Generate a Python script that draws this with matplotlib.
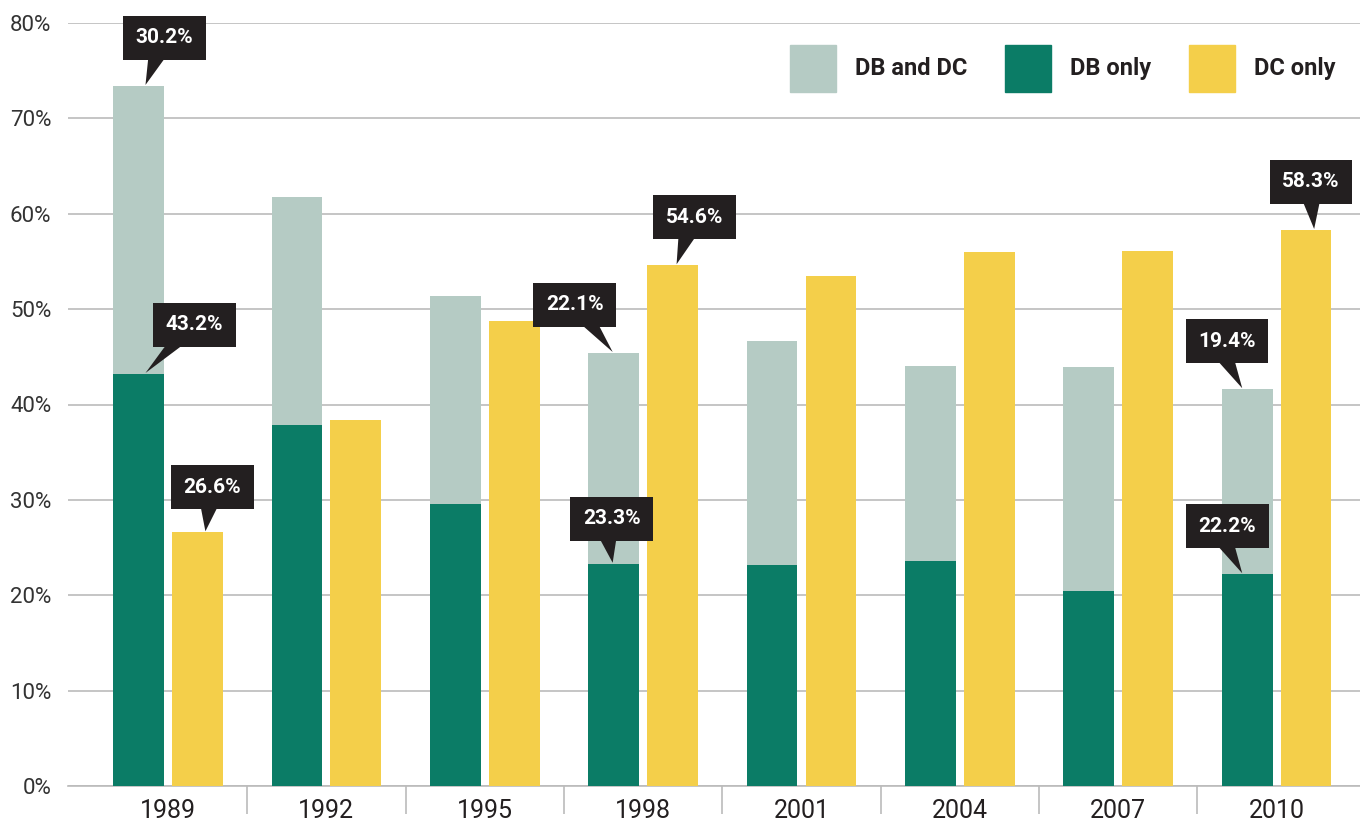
import numpy as np
import matplotlib.pyplot as plt
import matplotlib.transforms as mtransforms
from matplotlib.patches import Patch, Polygon

plt.rcParams['font.family'] = ['Roboto', 'DejaVu Sans']

years = ["1989", "1992", "1995", "1998", "2001", "2004", "2007", "2010"]
db_only = [43.2, 37.9, 29.6, 23.3, 23.2, 23.6, 20.4, 22.2]
db_and_dc = [30.2, 23.9, 21.8, 22.1, 23.5, 20.4, 23.5, 19.4]
dc_only = [26.6, 38.4, 48.8, 54.6, 53.5, 56.0, 56.1, 58.3]

c_both = "#b5cbc4"
c_db = "#0b7c66"
c_dc = "#f4cf4a"
c_box = "#231f20"

fig = plt.figure(figsize=(13.6, 8.25), dpi=100)
ax = fig.add_axes([68 / 1360, 1 - 786 / 825, 1 - 68 / 1360, (786 - 23) / 825])

x = np.arange(len(years))
w = 0.32
off = 0.186
ax.bar(x - off, db_only, w, color=c_db, zorder=3)
ax.bar(x - off, db_and_dc, w, bottom=db_only, color=c_both, zorder=3)
ax.bar(x + off, dc_only, w, color=c_dc, zorder=3)

ax.set_xlim(-0.631, 7.526)
ax.set_ylim(0, 80)
ax.set_yticks(range(0, 81, 10))
ax.set_yticklabels([f"{v}%" for v in range(0, 81, 10)], fontsize=16, color="#333333")
ax.set_xticks(x)
ax.set_xticklabels(years, fontsize=18, color="#231f20")
ax.set_xticks(np.arange(0.5, 7.5, 1), minor=True)
ax.tick_params(axis="x", which="major", length=0, pad=9)
ax.tick_params(axis="x", which="minor", length=20, width=1.2, color="#bbbbbb")
ax.tick_params(axis="y", length=0, pad=12)
ax.grid(axis="y", color="#bbbbbb", lw=1.2, zorder=0)
for s in ["top", "right", "left"]:
    ax.spines[s].set_visible(False)
ax.spines["bottom"].set_color("#bbbbbb")
ax.spines["bottom"].set_linewidth(1.2)

# callouts: (bar x, bar top, label, tip dx px, box centre offset from tip px, base shift px)
callouts = [
    (0 - off, db_only[0] + db_and_dc[0], db_and_dc[0], 7, (19, 48), -7),
    (0 - off, db_only[0], db_only[0], 7, (49, 49), -18),
    (0 + off, dc_only[0], dc_only[0], 8, (7, 45), -3),
    (3 - off, db_only[3] + db_and_dc[3], db_and_dc[3], -1, (-38, 48), 14),
    (3 - off, db_only[3], db_only[3], -1, (-1, 45), -4),
    (3 + off, dc_only[3], dc_only[3], 4, (18, 48), -7),
    (7 - off, db_only[7] + db_and_dc[7], db_and_dc[7], -5, (-15, 48), -2),
    (7 - off, db_only[7], db_only[7], -5, (-15, 48), -2),
    (7 + off, dc_only[7], dc_only[7], 8, (-3, 48), 0),
]
half_h = 19
for bx, top, lab, dx, (ox, oy), sh in callouts:
    tr = mtransforms.Affine2D().translate(dx, 0) + \
        mtransforms.ScaledTranslation(bx, top, ax.transData)
    base_y = oy - half_h + 1
    ax.add_patch(Polygon([(0, 1), (ox + sh - 9, base_y), (ox + sh + 9, base_y)],
                         closed=True, transform=tr, fc=c_box, ec="none",
                         zorder=5, clip_on=False))
    ax.text(ox, oy, f"{lab}%", transform=tr, ha="center", va="center",
            fontsize=15, fontweight="bold", color="white", zorder=6,
            bbox=dict(boxstyle="square,pad=0.6", fc=c_box, ec="none"))

handles = [Patch(color=c_both, label="DB and DC"),
           Patch(color=c_db, label="DB only"),
           Patch(color=c_dc, label="DC only")]
leg = ax.legend(handles=handles, ncol=3, loc="upper right", bbox_to_anchor=(0.981, 0.971),
                frameon=False, prop=dict(size=17, weight="bold"),
                handlelength=1.95, handleheight=2.65, handletextpad=0.8,
                columnspacing=1.6, borderpad=0, borderaxespad=0)
for t in leg.get_texts():
    t.set_color("#231f20")

fig.savefig("out.png", dpi=100)
